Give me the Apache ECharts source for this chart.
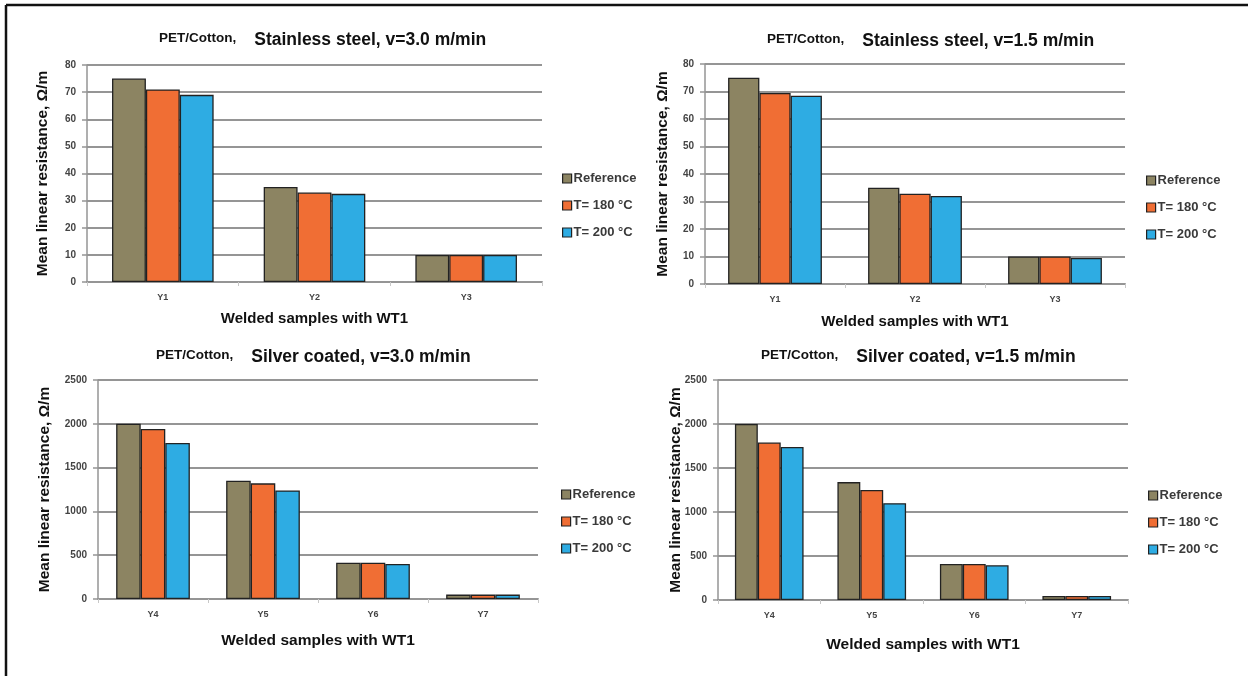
<!DOCTYPE html>
<html>
<head>
<meta charset="utf-8">
<script src="https://cdn.jsdelivr.net/npm/echarts@6/dist/echarts.min.js"></script>
<style>
  html, body { margin: 0; padding: 0; background: #fff; }
  #chart { width: 1248px; height: 676px; }
</style>
</head>
<body>
<div id="chart"></div>
<script>
// legend entries / colours
const seriesNames = ['Reference', 'T= 180 °C', 'T= 200 °C'];
const barColors = ['#8c8462', '#f06e34', '#2eace3'];

// stainless steel samples
const steelSamples = ['Y1', 'Y2', 'Y3'];
const steel30Ref = [75, 35, 10];
const steel30T180 = [71, 33, 10];
const steel30T200 = [69, 32.5, 10];
const steel15Ref = [75, 35, 10];
const steel15T180 = [69.5, 32.8, 10];
const steel15T200 = [68.5, 32, 9.5];

// silver coated samples
const silverSamples = ['Y4', 'Y5', 'Y6', 'Y7'];
const silver30Ref = [2000, 1350, 415, 50];
const silver30T180 = [1940, 1320, 415, 50];
const silver30T200 = [1780, 1240, 400, 50];
const silver15Ref = [2000, 1340, 410, 45];
const silver15T180 = [1790, 1250, 410, 45];
const silver15T200 = [1740, 1100, 395, 45];

const FONT = '"Liberation Sans", Arial, sans-serif';
const GRID_COLOR = '#959595';

// one entry per panel: text + layout
const panels = [
  {
    title: 'Stainless steel, v=3.0 m/min', cats: steelSamples,
    data: [steel30Ref, steel30T180, steel30T200], max: 80, interval: 10,
    grid: { left: 87, top: 65, width: 455, height: 217 },
    titlePos: [159, 31], legendPos: [562, 172], yGap: 36, xGap: 29
  },
  {
    title: 'Stainless steel, v=1.5 m/min', cats: steelSamples,
    data: [steel15Ref, steel15T180, steel15T200], max: 80, interval: 10,
    grid: { left: 705, top: 64, width: 420, height: 220 },
    titlePos: [767, 32], legendPos: [1146, 174], yGap: 34, xGap: 30
  },
  {
    title: 'Silver coated, v=3.0 m/min', cats: silverSamples,
    data: [silver30Ref, silver30T180, silver30T200], max: 2500, interval: 500,
    grid: { left: 98, top: 380, width: 440, height: 219 },
    titlePos: [156, 348], legendPos: [561, 488], yGap: 45, xGap: 34
  },
  {
    title: 'Silver coated, v=1.5 m/min', cats: silverSamples,
    data: [silver15Ref, silver15T180, silver15T200], max: 2500, interval: 500,
    grid: { left: 718, top: 380, width: 410, height: 220 },
    titlePos: [761, 348], legendPos: [1148, 489], yGap: 34, xGap: 37
  }
];

const chart = echarts.init(document.getElementById('chart'), null, { renderer: 'canvas' });

const option = {
  backgroundColor: '#fff',
  animation: false,
  textStyle: { fontFamily: FONT },
  title: panels.map(p => ({
    left: p.titlePos[0],
    top: p.titlePos[1],
    padding: 0,
    text: '{a|PET/Cotton,}{b|' + p.title + '}',
    textStyle: {
      rich: {
        a: { fontSize: 13.5, fontWeight: 'bold', color: '#111', fontFamily: FONT, padding: [0, 18, 4, 0] },
        b: { fontSize: 17.5, fontWeight: 'bold', color: '#111', fontFamily: FONT }
      }
    }
  })),
  legend: panels.map(p => ({
    data: seriesNames,
    orient: 'vertical',
    left: p.legendPos[0],
    top: p.legendPos[1],
    padding: 0,
    itemGap: 14,
    itemWidth: 9,
    itemHeight: 9,
    icon: 'rect',
    selectedMode: false,
    itemStyle: { borderColor: '#222', borderWidth: 1.2 },
    textStyle: { fontSize: 13, fontWeight: 'bold', color: '#3a3a3a', padding: [1, 0, 0, -3] }
  })),
  grid: panels.map(p => Object.assign({ containLabel: false }, p.grid)),
  xAxis: panels.map((p, i) => ({
    type: 'category',
    gridIndex: i,
    data: p.cats,
    name: 'Welded samples with WT1',
    nameLocation: 'middle',
    nameGap: p.xGap,
    nameTextStyle: { fontSize: i < 2 ? 15 : 15.5, fontWeight: 'bold', color: '#111' },
    axisLine: { lineStyle: { color: GRID_COLOR, width: 2 } },
    axisTick: { show: true, length: 4, lineStyle: { color: '#c8c8c8' } },
    axisLabel: { fontSize: 9, fontWeight: 'bold', color: '#444', margin: 11 }
  })),
  yAxis: panels.map((p, i) => ({
    type: 'value',
    gridIndex: i,
    min: 0,
    max: p.max,
    interval: p.interval,
    name: 'Mean linear resistance, Ω/m',
    nameLocation: 'middle',
    nameGap: p.yGap,
    nameMoveOverlap: false,
    nameTextStyle: { fontSize: 15.5, fontWeight: 'bold', color: '#111' },
    axisLine: { show: true, lineStyle: { color: GRID_COLOR, width: 1.5 } },
    axisTick: { show: true, length: 5, lineStyle: { color: GRID_COLOR, width: 1.5 } },
    axisLabel: { fontSize: 10, fontWeight: 'bold', color: '#444', margin: 11, formatter: v => String(v) },
    splitLine: { lineStyle: { color: GRID_COLOR, width: 2 } }
  })),
  series: panels.flatMap((p, i) => seriesNames.map((name, k) => ({
    name: name,
    type: 'bar',
    xAxisIndex: i,
    yAxisIndex: i,
    data: p.data[k],
    barGap: '0%',
    barCategoryGap: '33%',
    itemStyle: { color: barColors[k], borderColor: '#222', borderWidth: 1.3 }
  }))),
  graphic: [
    // page frame (top and left edges)
    { type: 'line', shape: { x1: 6, y1: 5, x2: 1248, y2: 5 }, style: { stroke: '#111', lineWidth: 2.5 } },
    { type: 'line', shape: { x1: 6, y1: 5, x2: 6, y2: 676 }, style: { stroke: '#111', lineWidth: 2.5 } }
  ]
};

chart.setOption(option);
window.addEventListener('resize', () => chart.resize());
</script>
</body>
</html>
